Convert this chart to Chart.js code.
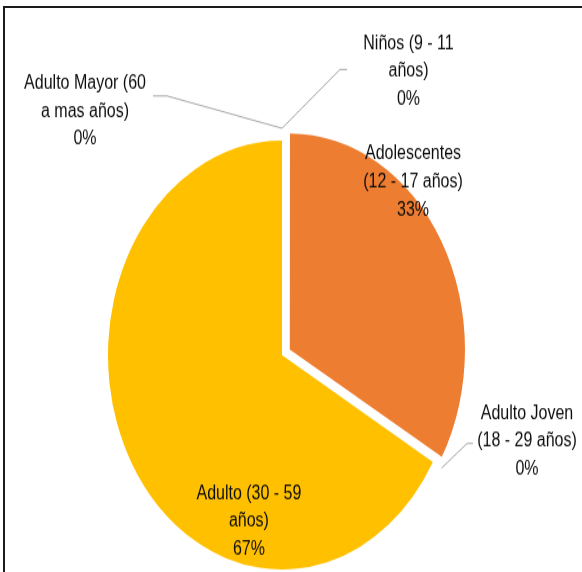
<!DOCTYPE html>
<html><head><meta charset="utf-8">
<script src="https://cdn.jsdelivr.net/npm/chart.js@4/dist/chart.umd.min.js"></script>
<style>
html,body{margin:0;padding:0;background:#fff;width:582px;height:572px;overflow:hidden}
#wrap{position:absolute;left:0;top:0;width:582px;height:464px;transform-origin:0 0;transform:scaleY(1.2328)}
#frame{position:absolute;left:3px;top:6px;width:700px;height:700px;border-left:2px solid #1b1b1b;border-top:2px solid #1b1b1b;pointer-events:none}
</style></head><body>
<div id="wrap"><canvas id="c" width="582" height="464" style="width:582px;height:464px"></canvas></div>
<div id="frame"></div>
<script>
// Categories (wrapped as in the reference), values (percent shares)
const categories = [
  ['Niños (9 - 11', 'años)'],
  ['Adolescentes', '(12 - 17 años)'],
  ['Adulto Joven', '(18 - 29 años)'],
  ['Adulto (30 - 59', 'años)'],
  ['Adulto Mayor (60', 'a mas años)']
];
const values = [0, 33.3, 0, 66.7, 0];
const colors = ['#5B9BD5', '#ED7D31', '#A5A5A5', '#FFC000', '#4472C4'];
const explode = [0, 36, 0, 0, 0];

// label layout: centre relative to pie centre, in radius units
const labelPos = [[0.727, -1.322], [0.753, -0.806], [1.408, 0.402], [-0.190, 0.775], [-1.132, -1.136]];
// leader lines: [startDx, dy, elbowDx] relative to label centre
const leaders = [[-61.5, -1.6, -68.5], null, [-54, 1.8, -60], null, [68, -12.5, 82]];
const LINE_H = 22.7;

const labelPlugin = {
  id: 'pieLabels',
  afterDatasetsDraw(chart) {
    const ctx = chart.ctx;
    const meta = chart.getDatasetMeta(0);
    const total = values.reduce((a, b) => a + b, 0);
    ctx.save();
    ctx.font = '16px "Liberation Sans", Arial, sans-serif';
    ctx.textAlign = 'center';
    ctx.textBaseline = 'middle';
    meta.data.forEach((arc, i) => {
      const p = arc.getProps(['x', 'y', 'outerRadius', 'startAngle', 'endAngle'], true);
      const lx = p.x + labelPos[i][0] * p.outerRadius;
      const ly = p.y + labelPos[i][1] * p.outerRadius;
      if (leaders[i]) {
        const a = (p.startAngle + p.endAngle) / 2;
        const ex = p.x + Math.cos(a) * (p.outerRadius + 10);
        const ey = p.y + Math.sin(a) * (p.outerRadius + 10);
        ctx.beginPath();
        ctx.moveTo(lx + leaders[i][0], ly + leaders[i][1]);
        ctx.lineTo(lx + leaders[i][2], ly + leaders[i][1]);
        ctx.lineTo(ex, ey);
        ctx.strokeStyle = '#A6A6A6';
        ctx.lineWidth = 1;
        ctx.stroke();
      }
      const lines = categories[i].concat([Math.round(values[i] / total * 100) + '%']);
      ctx.fillStyle = '#0d0d0d';
      lines.forEach((t, k) => ctx.fillText(t, lx, ly + (k - (lines.length - 1) / 2) * LINE_H));
    });
    ctx.restore();
  }
};

new Chart(document.getElementById('c'), {
  type: 'pie',
  data: {
    labels: categories,
    datasets: [{
      data: values,
      backgroundColor: colors,
      borderWidth: 0,
      offset: explode,
      radius: 174
    }]
  },
  options: {
    responsive: false,
    animation: false,
    events: [],
    layout: { padding: { left: 0, right: 18, top: 112, bottom: 0 } },
    plugins: { legend: { display: false }, tooltip: { enabled: false } }
  },
  plugins: [labelPlugin]
});
</script>
</body></html>
